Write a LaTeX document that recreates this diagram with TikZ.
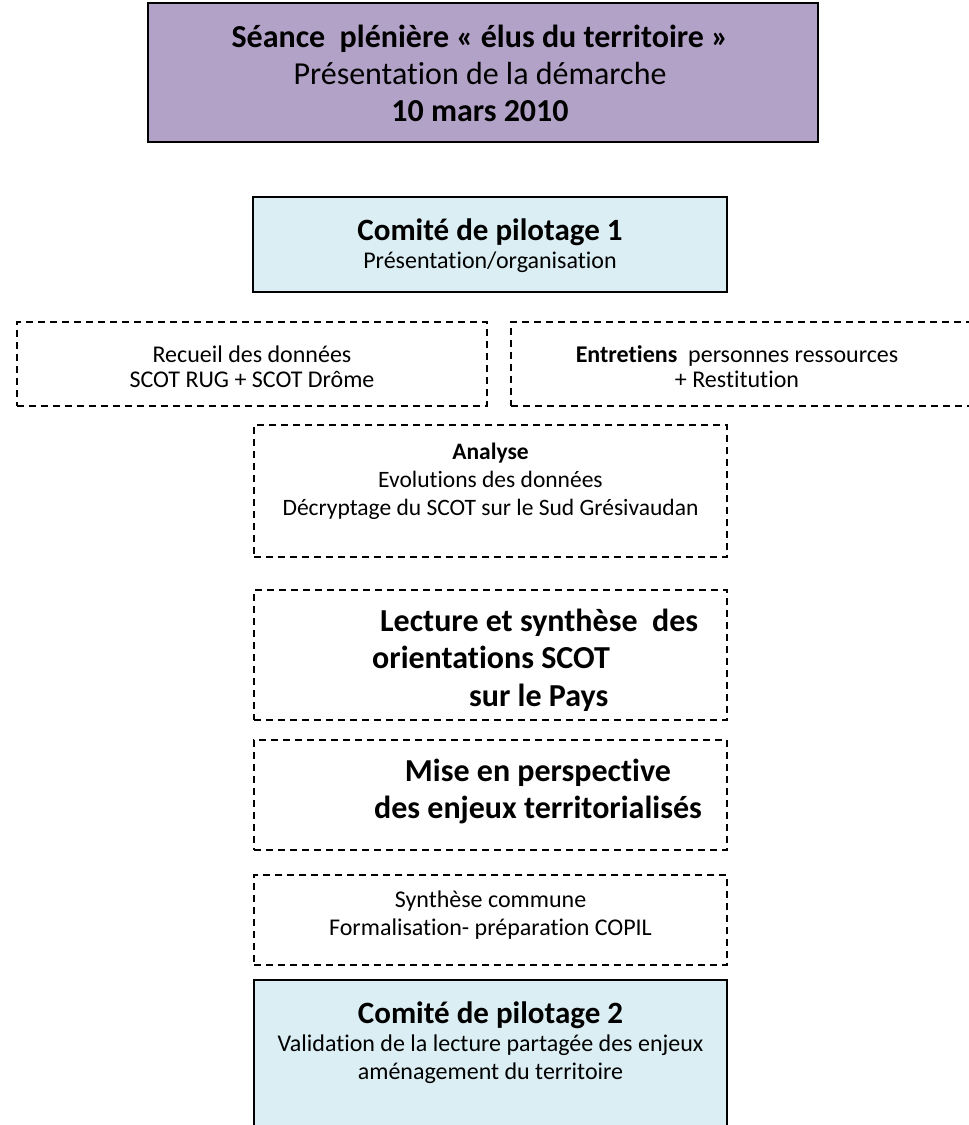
\documentclass[tikz,border=0pt]{standalone}
\usepackage{fontspec}
\setmainfont[Ligatures=NoCommon]{Carlito}
\definecolor{seancepurple}{RGB}{178, 162, 199}
\definecolor{copilblue}{RGB}{218, 238, 243}
\usepackage{tikz}
\usetikzlibrary{positioning}

\begin{document}
\begin{tikzpicture}[x=1pt, y=-1pt,
    solidframe/.style={draw=black, line width=2pt, inner sep=0pt, minimum width=474pt},
    dashframe/.style={draw=black, line width=1.4pt, dash pattern=on 7pt off 5pt, inner sep=0pt, minimum width=473pt},
    bigtxt/.style={font=\fontsize{32}{37}\selectfont, align=center},
    plaintxt/.style={font=\fontsize{24}{28}\selectfont, align=center},
    smalltxt/.style={font=\fontsize{24}{25}\selectfont, align=center}]
  \clip (0, 0) rectangle (969, 1125);
  \useasboundingbox (0, 0) rectangle (969, 1125);

  % Plenary session
  \node[solidframe, fill=seancepurple, minimum width=670pt, minimum height=139pt] (seance) at (483, 72.5) {};
  \node[bigtxt] (seancetxt) at (480, 73.5) {\textbf{Séance\ \ plénière « élus du territoire »}\\Présentation de la démarche\\\textbf{10 mars 2010}};

  % First steering committee
  \node[solidframe, fill=copilblue, minimum height=95pt] (copil1) at (490, 244.5) {};
  \node[plaintxt] (copil1txt) at (490, 246) {\fontsize{31}{33}\selectfont\textbf{Comité de pilotage 1}\\Présentation/organisation};

  % Data collection and interviews
  \node[dashframe, minimum width=470pt, minimum height=84pt] (recueil) at (252, 364) {};
  \node[smalltxt] (recueiltxt) at (252, 367) {Recueil des données\\SCOT RUG + SCOT Drôme};
  \node[dashframe, minimum width=489pt, minimum height=84pt] (entretiens) at (755.5, 364) {};
  \node[smalltxt] (entretienstxt) at (737, 367) {\textbf{Entretiens}\ \ personnes ressources\\+ Restitution};

  % Analysis
  \node[dashframe, minimum height=132pt] (analyse) at (490.5, 491) {};
  \node[plaintxt, font=\fontsize{23.5}{28}\selectfont] (analysetxt) at (490.5, 481) {\textbf{Analyse}\\Evolutions des données\\Décryptage du SCOT sur le Sud Grésivaudan};

  % Reading of the SCOT orientations
  \node[dashframe, minimum height=130pt] (lecture) at (490.5, 655) {};
  \node[font=\fontsize{32}{37.5}\selectfont\bfseries, align=left, anchor=west, inner sep=0pt] (lecturetxt) at (372, 660) {\hspace*{8pt}Lecture et synthèse\ \ des\\orientations SCOT\\\hspace*{97pt}sur le Pays};

  % Territorial stakes
  \node[bigtxt, font=\fontsize{32}{37}\selectfont\bfseries] (misetxt) at (538, 791) {Mise en perspective\\des enjeux territorialisés};
  \node[dashframe, minimum height=110pt] (mise) at (490.5, 795) {};

  % Common synthesis
  \node[dashframe, minimum height=90pt] (synthese) at (490.5, 920) {};
  \node[plaintxt] (synthesetxt) at (490.5, 915) {Synthèse commune\\Formalisation- préparation COPIL};

  % Second steering committee
  \node[solidframe, fill=copilblue, minimum width=473pt, minimum height=155pt] (copil2) at (490.5, 1057.5) {};
  \node[plaintxt] (copil2txt) at (490.5, 1043) {\fontsize{31}{33}\selectfont\textbf{Comité de pilotage 2}\\Validation de la lecture partagée des enjeux\\aménagement du territoire};
\end{tikzpicture}
\end{document}
